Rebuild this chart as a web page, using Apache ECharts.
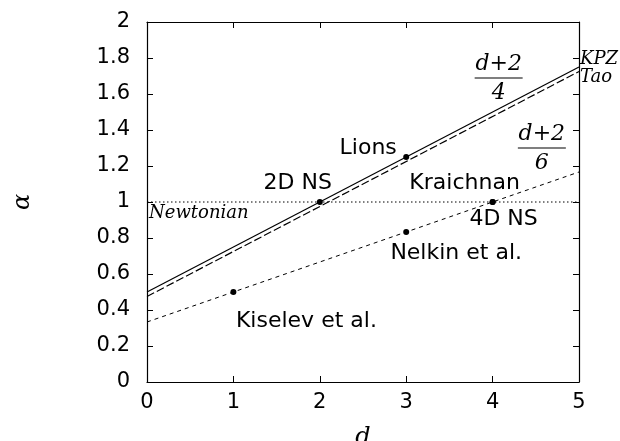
<!DOCTYPE html>
<html>
<head>
<meta charset="utf-8">
<script src="https://cdn.jsdelivr.net/npm/echarts@6/dist/echarts.min.js"></script>
<style>
  html, body { margin: 0; padding: 0; background: #fff; }
  #chart { width: 620px; height: 441px; }
</style>
</head>
<body>
<div id="chart"></div>
<script>
// data
const dRange = [0, 5]
const kpz = [0.5, 1.75]          // (d+2)/4
const tao = [0.475, 1.725]
const sixth = [0.3333, 1.1667]   // (d+2)/6
const newtonian = [1, 1]

const pointNames = ['Kiselev et al.', '2D NS', 'Lions', 'Nelkin et al.', 'Kraichnan', '4D NS']
const pointD = [1, 2, 3, 3, 4, 4]
const pointAlpha = [0.5, 1, 1.25, 0.8333, 1, 1]

// label offsets (px) relative to each point
const labelOffsets = {
  'Kiselev et al.': [73, 29],
  '2D NS': [-22, -19],
  'Lions': [-38, -9],
  'Nelkin et al.': [50, 21],
  'Kraichnan': [-28, -19],
  '4D NS': [11, 17]
}

const SANS = 'DejaVu Sans'
const SERIF = 'DejaVu Serif'
const DOT = 6

const pairs = vals => dRange.map((d, i) => [d, vals[i]])

const lineSeries = (name, vals, type, width) => ({
  name,
  type: 'line',
  data: pairs(vals),
  symbol: 'none',
  silent: true,
  lineStyle: { color: '#000', width, type }
})

const chart = echarts.init(document.getElementById('chart'))

const axisBase = {
  axisLine: { show: true, onZero: false, lineStyle: { color: '#000', width: 1.2 } },
  axisTick: { show: true, inside: true, length: 6, lineStyle: { color: '#000' } },
  splitLine: { show: false }
}

chart.setOption({
  animation: false,
  backgroundColor: '#fff',
  grid: { left: 147, right: 41, top: 22, bottom: 59, containLabel: false, outerBoundsMode: 'none' },
  xAxis: [
    Object.assign({}, axisBase, {
      type: 'value', min: 0, max: 5, interval: 1,
      axisLabel: { color: '#000', fontFamily: SANS, fontSize: 21, margin: 10 },
      name: 'd', nameLocation: 'middle', nameGap: 44,
      nameTextStyle: { color: '#000', fontFamily: SERIF, fontStyle: 'italic', fontSize: 24 }
    }),
    Object.assign({}, axisBase, {
      type: 'value', min: 0, max: 5, interval: 1, position: 'top',
      axisLabel: { show: false }
    })
  ],
  yAxis: [
    Object.assign({}, axisBase, {
      type: 'value', min: 0, max: 2, interval: 0.2,
      axisLabel: { color: '#000', fontFamily: SANS, fontSize: 21, margin: 17 },
      name: 'α', nameLocation: 'middle', nameGap: 112, nameRotate: 90,
      nameTextStyle: { color: '#000', fontFamily: SERIF, fontStyle: 'italic', fontSize: 24 }
    }),
    Object.assign({}, axisBase, {
      type: 'value', min: 0, max: 2, interval: 0.2, position: 'right',
      axisLabel: { show: false }
    })
  ],
  series: [
    lineSeries('KPZ', kpz, 'solid', 1.2),
    lineSeries('Tao', tao, [8, 3], 1.2),
    lineSeries('sixth', sixth, [4, 4], 1),
    lineSeries('Newtonian', newtonian, [1.5, 2.5], 1),
    {
      type: 'scatter',
      symbol: 'circle',
      symbolSize: DOT,
      silent: true,
      itemStyle: { color: '#000', opacity: 1 },
      label: { color: '#000', opacity: 1 },
      data: pointNames.map((n, i) => ({
        name: n,
        value: [pointD[i], pointAlpha[i]],
        label: {
          show: true,
          position: [DOT / 2, DOT / 2],
          align: 'center',
          verticalAlign: 'middle',
          formatter: n,
          offset: labelOffsets[n],
          color: '#000',
          opacity: 1,
          textBorderWidth: 0,
          fontFamily: SANS,
          fontSize: 22
        }
      }))
    }
  ]
})

// annotations anchored to data coordinates
const px = (d, a) => chart.convertToPixel({ gridIndex: 0 }, [d, a])

const serifText = (x, y, text, size, align) => ({
  type: 'text',
  x, y,
  silent: true,
  style: {
    text,
    fill: '#000',
    font: 'italic ' + size + 'px "' + SERIF + '"',
    align: align || 'center',
    verticalAlign: 'middle'
  }
})

const fraction = (d, a, num, den) => {
  const [cx, cy] = px(d, a)
  return [
    serifText(cx, cy - 14, num, 22),
    serifText(cx, cy + 15, den, 22),
    {
      type: 'line', silent: true,
      shape: { x1: cx - 24, y1: cy, x2: cx + 24, y2: cy },
      style: { stroke: '#000', lineWidth: 1.2 }
    }
  ]
}

const [nx, ny] = px(0, newtonian[0])
const [kx, ky] = px(dRange[1], kpz[1])
const [tx, ty] = px(dRange[1], tao[1])

chart.setOption({
  graphic: [
    serifText(nx + 2, ny + 11, 'Newtonian', 18, 'left'),
    serifText(kx + 1, ky - 8, 'KPZ', 18, 'left'),
    serifText(tx + 1, ty + 6, 'Tao', 18, 'left'),
    ...fraction(4.07, 1.689, 'd+2', '4'),
    ...fraction(4.57, 1.3, 'd+2', '6')
  ]
})
</script>
</body>
</html>
